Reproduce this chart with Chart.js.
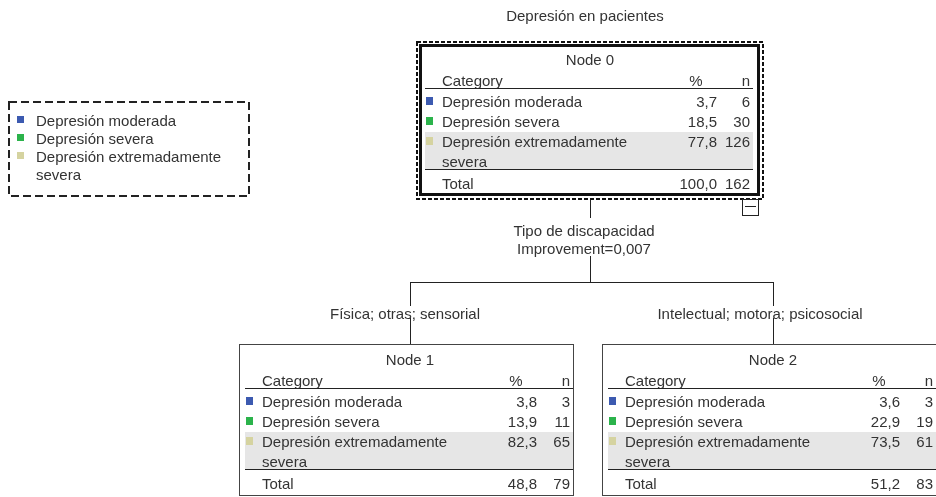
<!DOCTYPE html>
<html>
<head>
<meta charset="utf-8">
<script src="https://cdn.jsdelivr.net/npm/chart.js@4.4.1/dist/chart.umd.min.js"></script>
<style>
  body { margin: 0; background: #fff; }
  #tree { display: block; }
</style>
</head>
<body>
<canvas id="tree" width="936" height="497"></canvas>
<script>
const treeTitle = 'Depresión en pacientes';
const categories = ['Depresión moderada', 'Depresión severa', 'Depresión extremadamente severa'];
const nodeNames = ['Node 0', 'Node 1', 'Node 2'];
const nodePercents = [
    [3.7, 18.5, 77.8],
    [3.8, 13.9, 82.3],
    [3.6, 22.9, 73.5]
];
const nodeCounts = [
    [6, 30, 126],
    [3, 11, 65],
    [3, 19, 61]
];
const totalPercents = [100.0, 48.8, 51.2];
const totalCounts = [162, 79, 83];
const splitVariable = 'Tipo de discapacidad';
const splitImprovement = 0.007;
const branchLabels = ['Física; otras; sensorial', 'Intelectual; motora; psicosocial'];

// styles and layout
const categoryColors = ['#3c5ab0', '#2bb34b', '#d5d3a0'];
const textColor = '#333';
const font = '15px "Liberation Sans", Arial, sans-serif';
const modeCategory = 2; // shaded row
const nodeBox = { width: 335, height: 152 };
const nodePos = [
    { left: 419, top: 44 },
    { left: 239, top: 344 },
    { left: 602, top: 344 }
];
const stemOffset = 171;
const textShift = 1.5; // canvas 'middle' sits a bit high

function fmt(v, digits) {
    return v.toFixed(digits).replace('.', ',');
}

function wrapText(ctx, text, maxWidth) {
    const words = text.split(' ');
    const lines = [];
    let line = '';
    words.forEach(w => {
        const test = line ? line + ' ' + w : w;
        if (ctx.measureText(test).width > maxWidth && line) {
            lines.push(line);
            line = w;
        } else {
            line = test;
        }
    });
    lines.push(line);
    return lines;
}

const treePlugin = {
    id: 'tree',
    afterDraw(chart) {
        const ctx = chart.ctx;
        const px = v => chart.scales.x.getPixelForValue(v);
        const py = v => chart.scales.y.getPixelForValue(v);

        ctx.save();
        ctx.font = font;
        ctx.textBaseline = 'middle';

        function line(x1, y1, x2, y2, color, width) {
            ctx.strokeStyle = color || '#222';
            ctx.lineWidth = width || 1;
            ctx.beginPath();
            ctx.moveTo(px(x1), py(y1));
            ctx.lineTo(px(x2), py(y2));
            ctx.stroke();
        }

        function text(str, x, y, align) {
            ctx.fillStyle = textColor;
            ctx.textAlign = align || 'left';
            ctx.fillText(str, px(x), py(y + textShift));
        }

        // title
        text(treeTitle, 585, 15, 'center');

        // legend
        ctx.setLineDash([8, 4]);
        ctx.lineWidth = 2;
        ctx.strokeStyle = '#222';
        ctx.strokeRect(px(9), py(102), px(249) - px(9), py(196) - py(102));
        ctx.setLineDash([]);
        let ly = 120;
        categories.forEach((cat, i) => {
            ctx.fillStyle = categoryColors[i];
            ctx.fillRect(px(17), py(ly - 4), 7, 7);
            wrapText(ctx, cat, 200).forEach(l => {
                text(l, 36, ly);
                ly += 18;
            });
        });

        // nodes
        nodeNames.forEach((name, n) => {
            const L = nodePos[n].left, T = nodePos[n].top;
            const R = L + nodeBox.width, B = T + nodeBox.height;
            const cL = L + 6, cR = L + 334;
            const pctR = L + 298, nR = L + 331;

            ctx.fillStyle = '#fff';
            ctx.fillRect(px(L), py(T), px(R) - px(L), py(B) - py(T));

            text(name, L + stemOffset, T + 15, 'center');
            text('Category', L + 23, T + 36);
            text('%', pctR - 21, T + 36, 'center');
            text('n', nR, T + 36, 'right');
            line(cL, T + 44.5, cR, T + 44.5);

            let ry = T + 57;
            categories.forEach((cat, i) => {
                const lines = wrapText(ctx, cat, 215);
                if (i === modeCategory) {
                    ctx.fillStyle = '#e6e6e6';
                    ctx.fillRect(px(cL), py(ry - 9), px(cR) - px(cL), 20 * lines.length - 3);
                }
                ctx.fillStyle = categoryColors[i];
                ctx.fillRect(px(L + 7), py(ry - 4), 7, 8);
                text(fmt(nodePercents[n][i], 1), pctR, ry, 'right');
                text(String(nodeCounts[n][i]), nR, ry, 'right');
                lines.forEach(l => {
                    text(l, L + 23, ry);
                    ry += 20;
                });
            });
            line(cL, T + 125.5, cR, T + 125.5);
            text('Total', L + 23, T + 139);
            text(fmt(totalPercents[n], 1), pctR, T + 139, 'right');
            text(String(totalCounts[n]), nR, T + 139, 'right');

            if (n === 0) {
                // selected root: thick border, dashed frame, collapse box
                ctx.lineWidth = 3;
                ctx.strokeStyle = '#111';
                ctx.strokeRect(px(L) + 1.5, py(T) + 1.5, px(L + 341) - px(L) - 3, py(B) - py(T) - 3);
                ctx.setLineDash([4, 2]);
                ctx.lineWidth = 2;
                ctx.strokeRect(px(L - 2), py(T - 2), px(L + 344) - px(L - 2), py(B + 3) - py(T - 2));
                ctx.setLineDash([]);
                ctx.fillStyle = '#fff';
                ctx.fillRect(px(742), py(199), 17, 16);
                ctx.lineWidth = 1;
                ctx.strokeStyle = '#222';
                ctx.strokeRect(px(742) + 0.5, py(199) + 0.5, 16, 16);
                line(745, 206.5, 756, 206.5);
            } else {
                ctx.lineWidth = 1;
                ctx.strokeStyle = '#444';
                ctx.strokeRect(px(L) + 0.5, py(T) + 0.5, px(R) - px(L) - 1, py(B) - py(T) - 1);
            }
        });

        // connectors
        const rootX = nodePos[0].left + stemOffset + 0.5;
        line(rootX, 200, rootX, 218);
        line(rootX, 256, rootX, 282.5);
        text(splitVariable, 584, 230, 'center');
        text('Improvement=' + fmt(splitImprovement, 3), 584, 248, 'center');

        const childX = [1, 2].map(c => nodePos[c].left + stemOffset + 0.5);
        line(childX[0], 282.5, childX[1], 282.5);
        childX.forEach((cx, i) => {
            line(cx, 282, cx, 306);
            line(cx, 318, cx, nodePos[i + 1].top);
        });
        text(branchLabels[0], 405, 313, 'center');
        text(branchLabels[1], 760, 313, 'center');

        ctx.restore();
    }
};

new Chart(document.getElementById('tree').getContext('2d'), {
    type: 'scatter',
    data: { datasets: [{ data: [] }] },
    options: {
        responsive: false,
        animation: false,
        layout: { padding: 0 },
        plugins: { legend: { display: false }, tooltip: { enabled: false } },
        scales: {
            x: { type: 'linear', min: 0, max: 936, display: false },
            y: { type: 'linear', min: 0, max: 497, reverse: true, display: false }
        }
    },
    plugins: [treePlugin]
});
</script>
</body>
</html>
